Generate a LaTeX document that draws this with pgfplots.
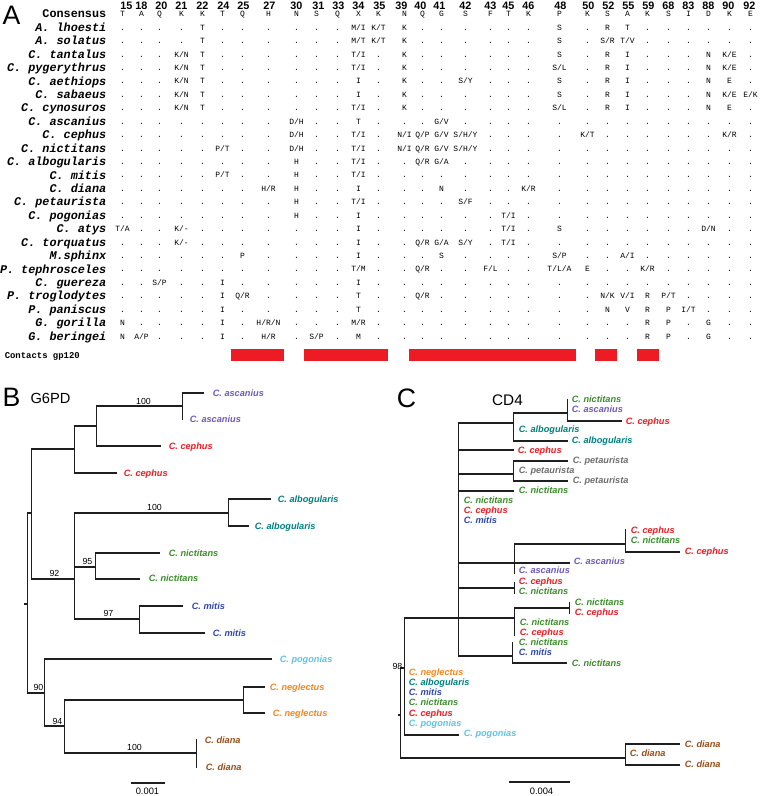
\documentclass[border=0pt]{standalone}
\usepackage{fontspec}
\setmainfont{Liberation Sans}
\newfontfamily\cour{Liberation Mono}
\usepackage{pgfplots}
\usepackage{pgfplotstable}
\pgfplotsset{compat=1.18}

\definecolor{barred}{RGB}{237,28,36}
\definecolor{casc}{RGB}{110,90,185}
\definecolor{ceph}{RGB}{237,28,36}
\definecolor{calb}{RGB}{0,128,128}
\definecolor{cnic}{RGB}{60,140,45}
\definecolor{cmit}{RGB}{50,70,175}
\definecolor{cpog}{RGB}{95,195,225}
\definecolor{cneg}{RGB}{245,135,30}
\definecolor{cdia}{RGB}{150,78,25}
\definecolor{cpet}{RGB}{110,110,110}

\newcommand{\fres}{\cour\fontsize{6}{6}\selectfont}
\newcommand{\fname}{\cour\bfseries\itshape\fontsize{8.85}{9}\selectfont}
\newcommand{\fcons}{\cour\bfseries\fontsize{8.85}{9}\selectfont}
\newcommand{\fhead}{\bfseries\fontsize{8.1}{8}\selectfont}
\newcommand{\tlab}{\bfseries\itshape\fontsize{6.9}{7}\selectfont}
\newcommand{\fboot}{\fontsize{6.6}{7}\selectfont}

\pgfplotstableread{
y a121 a140 a158 a180 a201 a221 a241 a267 a295 a315 a336 a357 a377 a403 a421 a440 a464 a489 a507 a527 a558 a586 a606 a626 a646 a667 a687 a707 a728 a749
14.3 T A Q K K T Q H N S Q X K N Q G S F T K P K S A K S I D K E
27.7 . . . . T . . . . . . M/I K/T K . . . . . . S . R T . . . . . .
41.2 . . . . T . . . . . . M/T K/T K . . . . . . S . S/R T/V . . . . . .
54.6 . . . K/N T . . . . . . T/I . K . . . . . . S . R I . . . N K/E .
68.0 . . . K/N T . . . . . . T/I . K . . . . . . S/L . R I . . . N K/E .
81.5 . . . K/N T . . . . . . I . K . . S/Y . . . S . R I . . . N E .
94.9 . . . K/N T . . . . . . I . K . . . . . . S . R I . . . N K/E E/K
108.3 . . . K/N T . . . . . . T/I . K . . . . . . S/L . R I . . . N E .
121.7 . . . . . . . . D/H . . T . . . G/V . . . . . . . . . . . . . .
135.2 . . . . . . . . D/H . . T/I . N/I Q/P G/V S/H/Y . . . . K/T . . . . . . K/R .
148.6 . . . . . P/T . . D/H . . T/I . N/I Q/R G/V S/H/Y . . . . . . . . . . . . .
162.0 . . . . . . . . H . . T/I . . Q/R G/A . . . . . . . . . . . . . .
175.5 . . . . . P/T . . H . . T/I . . . . . . . . . . . . . . . . . .
188.9 . . . . . . . H/R H . . I . . . N . . . K/R . . . . . . . . . .
202.3 . . . . . . . . H . . T/I . . . . S/F . . . . . . . . . . . . .
215.8 . . . . . . . . H . . I . . . . . . T/I . . . . . . . . . . .
229.2 T/A . . K/- . . . . . . . I . . . . . . T/I . S . . . . . . D/N . .
242.6 . . . K/- . . . . . . . I . . Q/R G/A S/Y . T/I . . . . . . . . . . .
256.0 . . . . . . P . . . . I . . . S . . . . S/P . . A/I . . . . . .
269.5 . . . . . . . . . . . T/M . . Q/R . . F/L . . T/L/A E . . K/R . . . . .
282.9 . . S/P . . I . . . . . I . . . . . . . . . . . . . . . . . .
296.3 . . . . . I Q/R . . . . T . . Q/R . . . . . . . N/K V/I R P/T . . . .
309.8 . . . . . I . . . . . T . . . . . . . . . . N V R P I/T . . .
323.2 N . . . . I . H/R/N . . . M/R . . . . . . . . . . . . R P . G . .
336.6 N A/P . . . I . H/R . S/P . M . . . . . . . . . . . . R P . G . .
}\aln

\pgfplotstableread[col sep=comma]{
y,name
27.7,A. lhoesti
41.2,A. solatus
54.6,C. tantalus
68.0,C. pygerythrus
81.5,C. aethiops
94.9,C. sabaeus
108.3,C. cynosuros
121.7,C. ascanius
135.2,C. cephus
148.6,C. nictitans
162.0,C. albogularis
175.5,C. mitis
188.9,C. diana
202.3,C. petaurista
215.8,C. pogonias
229.2,C. atys
242.6,C. torquatus
256.0,M.sphinx
269.5,P. tephrosceles
282.9,C. guereza
296.3,P. troglodytes
309.8,P. paniscus
323.2,G. gorilla
336.6,G. beringei
}\names

\pgfplotstableread{
x lab
125 15
140 18
160 20
180 21
201 22
222 24
242 25
268 27
295 30
317 31
337 33
357 34
378 35
400 39
419 40
438 41
464 42
489 43
507 45
527 46
559 48
587 50
607 52
627 55
647 59
667 68
687 83
707 88
727 90
748 92
}\heads

\newcommand{\lab}[4]{\node[anchor=west,inner sep=0pt,text height=5pt,text depth=0pt,text=#3,font=\tlab] at (axis cs:#1,#2) {#4};}
\newcommand{\boot}[3]{\node[anchor=center,inner sep=0pt,text height=4.7pt,text depth=0pt,font=\fboot] at (axis cs:#1,#2) {#3};}

\begin{document}
\begin{tikzpicture}
\begin{axis}[
  width=571.5pt, height=597pt, scale only axis,
  xmin=0, xmax=762, ymin=0, ymax=796, y dir=reverse,
  hide axis, clip=false,
  tree/.style={black!88, line width=0.9pt, mark=none, line cap=rect},
]
\path (rel axis cs:0,0) rectangle (rel axis cs:1,1);

% ---------- Panel A ----------
\node[anchor=center,font=\fontsize{20}{20}\selectfont,inner sep=0pt] at (axis cs:10,15) {A};
\addplot[draw=none, mark=none, point meta=explicit symbolic, nodes near coords,
  every node near coord/.append style={anchor=center, inner sep=0pt, text height=5.8pt, text depth=0pt, font=\fhead}]
  table[x=x, y expr=5.3, meta=lab] {\heads};
\node[anchor=east,inner sep=0pt,text height=5.3pt,text depth=0pt,font=\fcons] at (axis cs:105,14.3) {Consensus};
\addplot[draw=none, mark=none, point meta=explicit symbolic, nodes near coords,
  every node near coord/.append style={anchor=east, inner sep=0pt, text height=5.3pt, text depth=0pt, font=\fname}]
  table[x expr=105, y=y, meta=name] {\names};
\pgfplotsinvokeforeach{121,140,158,180,201,221,241,267,295,315,336,357,377,403,421,440,464,489,507,527,558,586,606,626,646,667,687,707,728,749}{
  \addplot[draw=none, mark=none, point meta=explicit symbolic, nodes near coords,
    every node near coord/.append style={anchor=center, inner sep=0pt, text height=3.6pt, text depth=0pt, font=\fres}]
    table[x expr=#1, y=y, meta=a#1] {\aln};
}
\node[anchor=west,inner sep=0pt,text height=4pt,text depth=0pt,font=\cour\bfseries\fontsize{6.7}{7}\selectfont] at (axis cs:3,356) {Contacts gp120};
\addplot[fill=barred, draw=none] coordinates {(230,349) (283,349) (283,361) (230,361)} --cycle;
\addplot[fill=barred, draw=none] coordinates {(303,349) (387,349) (387,361) (303,361)} --cycle;
\addplot[fill=barred, draw=none] coordinates {(408,349) (575,349) (575,361) (408,361)} --cycle;
\addplot[fill=barred, draw=none] coordinates {(594,349) (616,349) (616,361) (594,361)} --cycle;
\addplot[fill=barred, draw=none] coordinates {(636,349) (658,349) (658,361) (636,361)} --cycle;

% ---------- Panel B ----------
\node[anchor=center,font=\fontsize{20}{20}\selectfont,inner sep=0pt] at (axis cs:10,397) {B};
\node[anchor=center,font=\fontsize{11}{11}\selectfont,inner sep=0pt] at (axis cs:49,398) {G6PD};
\addplot[tree] coordinates {(23,604) (25.7,604)};
\addplot[tree] coordinates {(30,513) (25.7,513) (25.7,693) (43,693)};
\addplot[tree] coordinates {(73,449) (30,449) (30,579) (73,579)};
\addplot[tree] coordinates {(95,426) (73,426) (73,473) (115,473)};
\addplot[tree] coordinates {(181,406) (95,406) (95,446) (159,446)};
\addplot[tree] coordinates {(202,393) (181,393) (181,419)};
\addplot[tree] coordinates {(227,513) (73,513) (73,619) (138,619)};
\addplot[tree] coordinates {(73,567) (94,567)};
\addplot[tree] coordinates {(269,499) (227,499) (227,526) (247,526)};
\addplot[tree] coordinates {(158,553) (94,553) (94,579) (138,579)};
\addplot[tree] coordinates {(181,606) (138,606) (138,633) (203,633)};
\addplot[tree] coordinates {(270,659) (43,659) (43,726) (63,726)};
\addplot[tree] coordinates {(242,700) (63,700) (63,753) (195,753)};
\addplot[tree] coordinates {(263,687) (242,687) (242,713) (263,713)};
\addplot[tree] coordinates {(195,740) (195,767)};
\addplot[tree] coordinates {(130,783) (163,783)};
\boot{142}{401}{100}
\boot{153}{507}{100}
\boot{86}{561}{95}
\boot{53}{573}{92}
\boot{107}{613}{97}
\boot{37}{687}{90}
\boot{56}{721}{94}
\boot{133}{747}{100}
\node[anchor=center,inner sep=0pt,font=\fontsize{7}{7}\selectfont] at (axis cs:146,791.5) {0.001};
\lab{211}{393}{casc}{C. ascanius}
\lab{188}{419}{casc}{C. ascanius}
\lab{167}{446}{ceph}{C. cephus}
\lab{122}{473}{ceph}{C. cephus}
\lab{276}{499}{calb}{C. albogularis}
\lab{253}{526}{calb}{C. albogularis}
\lab{167}{553}{cnic}{C. nictitans}
\lab{147}{578}{cnic}{C. nictitans}
\lab{190}{606}{cmit}{C. mitis}
\lab{211}{633}{cmit}{C. mitis}
\lab{278}{659}{cpog}{C. pogonias}
\lab{268}{687}{cneg}{C. neglectus}
\lab{271}{713}{cneg}{C. neglectus}
\lab{203}{740}{cdia}{C. diana}
\lab{204}{767}{cdia}{C. diana}

% ---------- Panel C ----------
\node[anchor=center,font=\fontsize{20}{20}\selectfont,inner sep=0pt] at (axis cs:405,398) {C};
\node[anchor=center,font=\fontsize{11.5}{11.5}\selectfont,inner sep=0pt] at (axis cs:506,400) {CD4};
\addplot[tree] coordinates {(397,715) (399,715)};
\addplot[tree] coordinates {(403,668) (399,668) (399,758) (624,758)};
\addplot[tree] coordinates {(513,618) (403,618) (403,735) (457,735)};
\addplot[tree] coordinates {(512,423) (457,423) (457,656) (511,656)};
\addplot[tree] coordinates {(457,450) (512,450)};
\addplot[tree] coordinates {(457,474) (512,474)};
\addplot[tree] coordinates {(457,491) (512,491)};
\addplot[tree] coordinates {(457,563) (568,563)};
\addplot[tree] coordinates {(457,588) (513,588)};
\addplot[tree] coordinates {(566,413) (512,413) (512,441) (566,441)};
\addplot[tree] coordinates {(566,400) (566,421) (620,421)};
\addplot[tree] coordinates {(566,461) (512,461) (512,481) (566,481)};
\addplot[tree] coordinates {(624,544) (513,544) (513,573)};
\addplot[tree] coordinates {(624,530) (624,552) (678,552)};
\addplot[tree] coordinates {(513,583) (513,593)};
\addplot[tree] coordinates {(568,608) (513,608) (513,635)};
\addplot[tree] coordinates {(568,603) (568,613)};
\addplot[tree] coordinates {(511,643) (511,663) (565,663)};
\addplot[tree] coordinates {(678,744) (624,744) (624,765) (678,765)};
\addplot[tree] coordinates {(508,782) (568,782)};
\boot{396}{666}{98}
\node[anchor=center,inner sep=0pt,font=\fontsize{7}{7}\selectfont] at (axis cs:540,791.5) {0.004};
\lab{570}{399}{cnic}{C. nictitans}
\lab{570}{409}{casc}{C. ascanius}
\lab{624}{421}{ceph}{C. cephus}
\lab{517}{429}{calb}{C. albogularis}
\lab{570}{440}{calb}{C. albogularis}
\lab{516}{450}{ceph}{C. cephus}
\lab{571}{460}{cpet}{C. petaurista}
\lab{517}{470}{cpet}{C. petaurista}
\lab{571}{480}{cpet}{C. petaurista}
\lab{517}{490}{cnic}{C. nictitans}
\lab{462}{500}{cnic}{C. nictitans}
\lab{462}{510}{ceph}{C. cephus}
\lab{462}{520}{cmit}{C. mitis}
\lab{629}{530}{ceph}{C. cephus}
\lab{629}{540}{cnic}{C. nictitans}
\lab{683}{551}{ceph}{C. cephus}
\lab{572}{561}{casc}{C. ascanius}
\lab{517}{570}{casc}{C. ascanius}
\lab{517}{581}{ceph}{C. cephus}
\lab{517}{591}{cnic}{C. nictitans}
\lab{573}{602}{cnic}{C. nictitans}
\lab{573}{612}{ceph}{C. cephus}
\lab{518}{622}{cnic}{C. nictitans}
\lab{518}{632}{ceph}{C. cephus}
\lab{517}{642}{cnic}{C. nictitans}
\lab{517}{652}{cmit}{C. mitis}
\lab{570}{663}{cnic}{C. nictitans}
\lab{407}{672}{cneg}{C. neglectus}
\lab{407}{682}{calb}{C. albogularis}
\lab{407}{692}{cmit}{C. mitis}
\lab{407}{702}{cnic}{C. nictitans}
\lab{407}{713}{ceph}{C. cephus}
\lab{407}{723}{cpog}{C. pogonias}
\lab{462}{733}{cpog}{C. pogonias}
\lab{683}{744}{cdia}{C. diana}
\lab{628}{753}{cdia}{C. diana}
\lab{683}{764}{cdia}{C. diana}
\end{axis}
\end{tikzpicture}
\end{document}
